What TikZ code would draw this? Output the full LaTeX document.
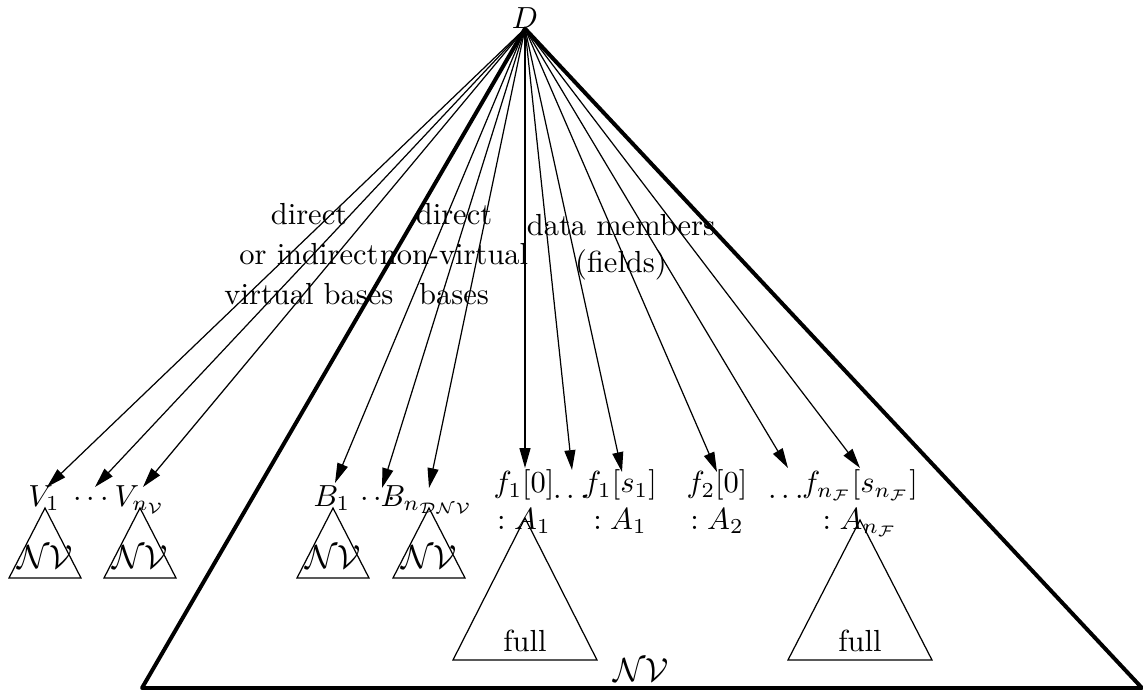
\documentclass[tikz,border=0pt]{standalone}
\usetikzlibrary{arrows.meta}
\begin{document}
\begin{tikzpicture}[x=0.3279pt,y=-0.3279pt,
  arr/.style={-{Triangle[length=6.5pt,width=3.6pt]}, line width=0.4pt},
  tri/.style={line width=0.4pt},
  big/.style={line width=1.3pt, line join=round},
  lbl/.style={inner sep=0pt, anchor=base},
  nvl/.style={lbl, font=\fontsize{10.95pt}{13pt}\selectfont},
  blk/.style={inner sep=0pt, anchor=north, align=center}]
\useasboundingbox (0,0) rectangle (1143,691);

% top node
\node[lbl] (D) at (525,28) {$D$};

% big triangle
\coordinate (bl) at (142,688);
\coordinate (br) at (1142,688);
\draw[big] (D.south) -- (bl) -- (br) -- cycle;

% labels on the arrows
\node[blk] (lv) at (309,203) {direct\\[1pt]or indirect\\[1pt]virtual bases};
\node[blk] (lb) at (454,203) {direct\\[1pt]non-virtual\\[1pt]bases};
\node[blk] (ld) at (621,214) {data members\\(fields)};

% leaf labels
\node[lbl] (v1) at (44,506) {$V_1$};
\node[lbl] (vd) at (91,506) {$\cdots$};
\node[lbl] (vn) at (140,506) {$V_{n_{\mathcal{V}}}$};
\node[lbl] (b1) at (332,506) {$B_1$};
\node[lbl] (bd) at (378,506) {$\cdots$};
\node[lbl] (bn) at (427,506) {$B_{n_{\mathcal{DNV}}}$};
\node[blk] (f10) at (524,469) {$f_1[0]$\\$: A_1$};
\node[lbl] (fd1) at (571,505) {$\cdots$};
\node[blk] (f1s) at (620,469) {$f_1[s_1]$\\$: A_1$};
\node[blk] (f20) at (717,469) {$f_2[0]$\\$: A_2$};
\node[lbl] (fd2) at (786,505) {$\cdots$};
\node[blk] (fn) at (860,469) {$f_{n_{\mathcal{F}}}[s_{n_{\mathcal{F}}}]$\\$: A_{n_{\mathcal{F}}}$};

% arrow tips
\coordinate (t1) at (47,487);
\coordinate (t2) at (95,487);
\coordinate (t3) at (143,487);
\coordinate (t4) at (335,483);
\coordinate (t5) at (382,488);
\coordinate (t6) at (429,488);
\coordinate (t7) at (525,468);
\coordinate (t8) at (572,470);
\coordinate (t9) at (622,472);
\coordinate (t10) at (717,472);
\coordinate (t11) at (788,468);
\coordinate (t12) at (860,468);
\foreach \t in {t1,t2,t3,t4,t5,t6,t7,t8,t9,t10,t11,t12}
  \draw[arr] (D.south) -- (\t);

% small subtrees
\draw[tri] (45,508) -- (9,578) -- (81,578) -- cycle;
\draw[tri] (140,508) -- (104,578) -- (176,578) -- cycle;
\draw[tri] (333,508) -- (297,578) -- (369,578) -- cycle;
\draw[tri] (429,508) -- (393,578) -- (465,578) -- cycle;
\node[nvl] (nv1) at (45,568) {$\mathcal{NV}$};
\node[nvl] (nv2) at (140,568) {$\mathcal{NV}$};
\node[nvl] (nv3) at (333,568) {$\mathcal{NV}$};
\node[nvl] (nv4) at (429,568) {$\mathcal{NV}$};

% full subtrees
\draw[tri] (525,518) -- (453,660) -- (597,660) -- cycle;
\draw[tri] (860,520) -- (788,660) -- (932,660) -- cycle;
\node[lbl] (full1) at (525,652) {full};
\node[lbl] (full2) at (860,652) {full};

% bottom label
\node[nvl] (nvb) at (641,681) {$\mathcal{NV}$};
\end{tikzpicture}
\end{document}
